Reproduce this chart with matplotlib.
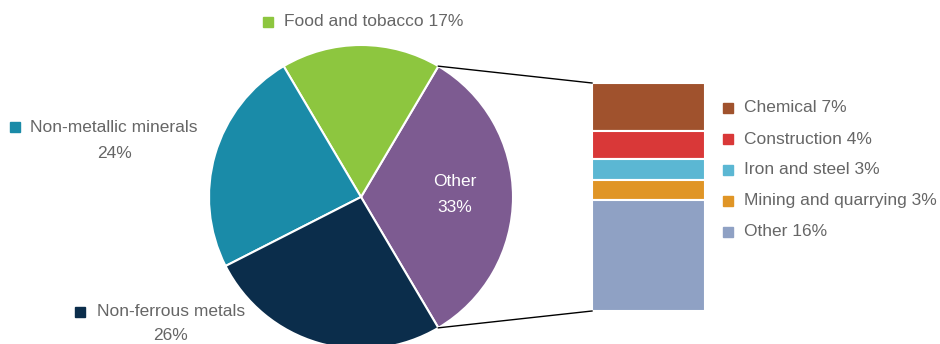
import matplotlib.pyplot as plt
from matplotlib.patches import Rectangle

plt.rcParams['font.family'] = ['Liberation Sans', 'DejaVu Sans']

# main pie
pie_labels = ['Other', 'Food and tobacco', 'Non-metallic minerals', 'Non-ferrous metals']
pie_values = [33, 17, 24, 26]
pie_colors = ['#7d5b91', '#8dc63f', '#1a8ba8', '#0b2d4b']

# breakdown of "Other"
bar_labels = ['Chemical', 'Construction', 'Iron and steel', 'Mining and quarrying', 'Other']
bar_values = [7, 4, 3, 3, 16]
bar_colors = ['#a0522d', '#d93838', '#5bb7d3', '#e09526', '#8fa1c4']

TEXT = '#666666'
FS = 12.5

fig = plt.figure(figsize=(9.4, 3.44), dpi=100)
ax = fig.add_axes([0, 0, 1, 1])
ax.set_xlim(0, 940)
ax.set_ylim(0, 344)
ax.set_aspect('equal')
ax.axis('off')

cx, cy, r = 361, 147, 152
start = -pie_values[0] / 100 * 180
wedges, _ = ax.pie(pie_values, colors=pie_colors, startangle=start, counterclock=True,
                   center=(cx, cy), radius=r, frame=True,
                   wedgeprops=dict(edgecolor='white', linewidth=1.5))
ax.set_xlim(0, 940)
ax.set_ylim(0, 344)
ax.axis('off')

# stacked bar
bx, bw = 592, 113
btop, bbot = 261, 33
scale = (btop - bbot) / sum(bar_values)
top = btop
for v, c in zip(bar_values, bar_colors):
    h = v * scale
    ax.bar(bx + bw / 2, h, width=bw, bottom=top - h, color=c,
           edgecolor='white', linewidth=1.5)
    top -= h

# connector lines
w0 = wedges[0]
import numpy as np
a1 = np.deg2rad(w0.theta2)
a2 = np.deg2rad(w0.theta1)
ax.plot([cx + r * np.cos(a1), bx], [cy + r * np.sin(a1), btop], color='black', lw=1)
ax.plot([cx + r * np.cos(a2), bx], [cy + r * np.sin(a2), bbot], color='black', lw=1)

# bar legend
for i, (lab, v, c) in enumerate(zip(bar_labels, bar_values, bar_colors)):
    y = 236 - i * 31
    ax.add_patch(Rectangle((723, y - 5), 10, 10, color=c))
    ax.text(744, y, f'{lab} {v}%', fontsize=FS, color=TEXT, va='center', ha='left')

# pie labels
def marker(x, y, c):
    ax.add_patch(Rectangle((x - 5, y - 5), 10, 10, color=c))

marker(268, 322, pie_colors[1])
ax.text(284, 322, f'{pie_labels[1]} {pie_values[1]}%', fontsize=FS, color=TEXT, va='center')

marker(15, 217, pie_colors[2])
ax.text(30, 217, pie_labels[2], fontsize=FS, color=TEXT, va='center')
ax.text(115, 191, f'{pie_values[2]}%', fontsize=FS, color=TEXT, va='center', ha='center')

marker(80, 32, pie_colors[3])
ax.text(97, 32, pie_labels[3], fontsize=FS, color=TEXT, va='center')
ax.text(170, 9, f'{pie_values[3]}%', fontsize=FS, color=TEXT, va='center', ha='center')

ax.text(455, 162, pie_labels[0], fontsize=FS, color='white', va='center', ha='center')
ax.text(455, 137, f'{pie_values[0]}%', fontsize=FS, color='white', va='center', ha='center')

fig.savefig('out.png', dpi=100)
